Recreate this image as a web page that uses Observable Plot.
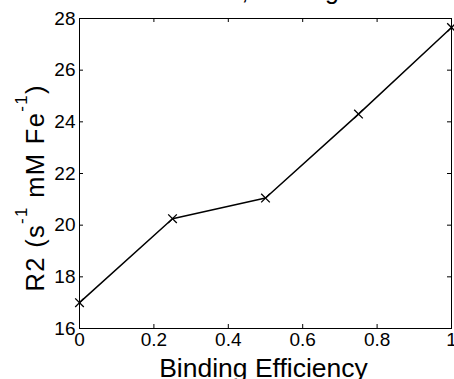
<!DOCTYPE html>
<html><head><meta charset="utf-8">
<script src="https://cdn.jsdelivr.net/npm/d3@7"></script>
<script src="https://cdn.jsdelivr.net/npm/@observablehq/plot@0.6"></script>
<style>
html,body{margin:0;padding:0;background:#fff;}
</style></head><body><div id="chart"></div>
<script>
// ---- data ----
const efficiency = [0, 0.25, 0.5, 0.75, 1];
const r2 = [17.0, 20.25, 21.05, 24.3, 27.65];
const xTicks = [0, 0.2, 0.4, 0.6, 0.8, 1];
const yTicks = [16, 18, 20, 22, 24, 26, 28];
const xLabel = "Binding Efficiency";
const yLabelParts = ["R2 (s", "-1", " mM Fe", "-1", ")"];
const yLabelSup = [false, true, false, true, false];
const titleText = "R2 Relaxation, Binding";

// ---- layout ----
const W = 454, H = 379, mL = 79, mR = 3, mT = 18, mB = 51;
const innerW = W - mL - mR, innerH = H - mT - mB;
const data = efficiency.map((x, i) => ({x, y: r2[i]}));
const font = "'Liberation Sans', Arial, Helvetica, sans-serif";
const yLabelFull = yLabelParts.join("");

const plot = Plot.plot({
  width: W, height: H,
  marginLeft: mL, marginRight: mR, marginTop: mT, marginBottom: mB,
  style: {fontFamily: font, background: "#fff", color: "#000"},
  x: {domain: [0, 1]},
  y: {domain: [16, 28]},
  marks: [
    Plot.frame({stroke: "#000"}),
    Plot.ruleX(xTicks, {x: d => d, insetTop: innerH - 4, stroke: "#000"}),
    Plot.ruleX(xTicks, {x: d => d, insetBottom: innerH - 4, stroke: "#000"}),
    Plot.ruleY(yTicks, {y: d => d, insetRight: innerW - 4, stroke: "#000"}),
    Plot.ruleY(yTicks, {y: d => d, insetLeft: innerW - 4, stroke: "#000"}),
    Plot.axisX(xTicks, {tickSize: 0, tickPadding: 4, fontSize: 19, label: null, fill: "#000", tickFormat: d => String(d)}),
    Plot.axisY(yTicks, {tickSize: 0, tickPadding: 4, fontSize: 19, label: null, fill: "#000", tickFormat: d => String(d)}),
    Plot.line(data, {x: "x", y: "y", stroke: "#000", strokeWidth: 1.5}),
    Plot.dot(data, {x: "x", y: "y", symbol: "times", r: 4, stroke: "#000", strokeWidth: 1.3}),
    Plot.text([xLabel], {frameAnchor: "bottom", dx: -2, dy: 48, lineAnchor: "bottom", fontSize: 26.5, fill: "#000"}),
    Plot.text([yLabelFull], {frameAnchor: "left", rotate: -90, textAnchor: "start", lineAnchor: "bottom",
      dx: -36, dy: 118, fontSize: 25.5, fill: "#000"}),
    Plot.text([titleText], {frameAnchor: "top-left", textAnchor: "start", lineAnchor: "bottom",
      dx: 5, dy: -19.5, fontSize: 25, fill: "#000"})
  ]
});

// rich y label with superscripts
d3.select(plot).selectAll("text").filter(function() { return this.textContent === yLabelFull; }).each(function() {
  const yt = d3.select(this);
  yt.text(null);
  let prevSup = false;
  yLabelParts.forEach((p, i) => {
    const sup = yLabelSup[i];
    const ts = yt.append("tspan").text(p);
    if (sup) ts.attr("font-size", 17).attr("dy", -17);
    else if (prevSup) ts.attr("dy", 17);
    prevSup = sup;
  });
  yt.attr("textLength", 206).attr("lengthAdjust", "spacing");
});

document.getElementById("chart").appendChild(plot);
</script>
</body></html>
